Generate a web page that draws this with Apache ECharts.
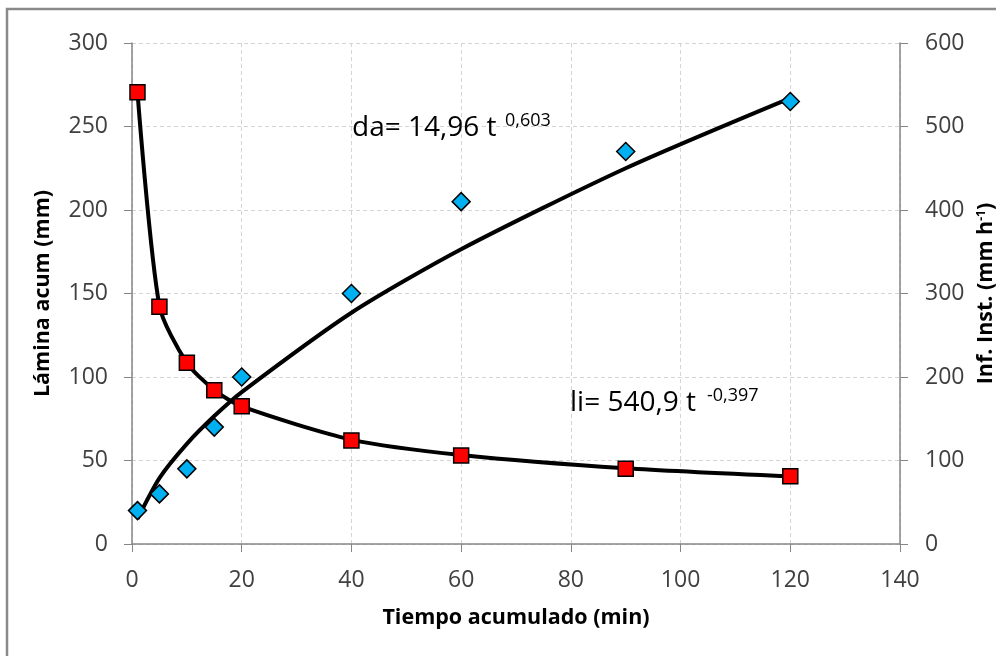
<!DOCTYPE html>
<html>
<head>
<meta charset="utf-8">
<script src="https://cdn.jsdelivr.net/npm/echarts@6/dist/echarts.min.js"></script>
<style>
  html, body { margin: 0; padding: 0; background: #fff; }
  #chart { width: 996px; height: 656px; }
</style>
</head>
<body>
<div id="chart"></div>
<script>
// Elapsed time (min)
const tiempo = [1, 5, 10, 15, 20, 40, 60, 90, 120];
// Measured cumulative depth (mm), left axis
const laminaObs = [20, 30, 45, 70, 100, 150, 205, 235, 265];
// Fitted cumulative depth da = 14,96 t^0,603 (mm), left axis
const laminaAjuste = [15.0, 39.5, 60.0, 76.6, 91.0, 138.5, 176.5, 225.0, 267.0];
// Instantaneous infiltration (mm/h), right axis: measured points and fitted curve
const infObs = [541, 284, 217, 184, 165, 124, 106, 90, 81];
const infAjuste = [541, 285, 217, 184.5, 164.7, 125, 106.5, 90.6, 80.9];

const xTicks = { min: 0, max: 140, interval: 20 };
const yLeftTicks = { min: 0, max: 300, interval: 50 };
const yRightTicks = { min: 0, max: 600, interval: 100 };

const pairs = (xs, ys) => xs.map((x, i) => [x, ys[i]]);

const FONT = '"Open Sans", "Liberation Sans", sans-serif';
const axisGray = '#868686';

const chart = echarts.init(document.getElementById('chart'), null, { renderer: 'canvas' });

const tickLabel = { color: '#404040', fontSize: 23, fontFamily: FONT };
const titleStyle = { color: '#000', fontSize: 21.5, fontWeight: 'bold', fontFamily: FONT };
const gridLine = { show: true, lineStyle: { color: '#d4d4d4', type: [4, 3], width: 1 } };
const eqMain = { fontSize: 28, fontFamily: FONT, fill: '#000' };
const eqSup = { fontSize: 18, fontFamily: FONT, fill: '#000' };

chart.setOption({
  backgroundColor: '#fff',
  animation: false,
  grid: { left: 132, right: 96, top: 43, bottom: 112, outerBoundsMode: 'none', containLabel: false },
  xAxis: {
    type: 'value',
    min: xTicks.min, max: xTicks.max, interval: xTicks.interval,
    name: 'Tiempo acumulado (min)',
    nameLocation: 'middle',
    nameGap: 63,
    nameTextStyle: titleStyle,
    axisLine: { show: true, onZero: false, lineStyle: { color: axisGray, width: 1.5 } },
    axisTick: { show: true, inside: false, length: 8, lineStyle: { color: axisGray } },
    axisLabel: Object.assign({ margin: 25 }, tickLabel),
    splitLine: gridLine
  },
  yAxis: [
    {
      type: 'value',
      position: 'left',
      min: yLeftTicks.min, max: yLeftTicks.max, interval: yLeftTicks.interval,
      name: 'Lámina acum (mm)',
      nameLocation: 'middle',
      nameGap: 78,
      nameRotate: 90,
      nameTextStyle: titleStyle,
      axisLine: { show: true, lineStyle: { color: axisGray, width: 1.5 } },
      axisTick: { show: true, length: 8, lineStyle: { color: axisGray } },
      axisLabel: Object.assign({ margin: 24 }, tickLabel),
      splitLine: gridLine
    },
    {
      type: 'value',
      position: 'right',
      min: yRightTicks.min, max: yRightTicks.max, interval: yRightTicks.interval,
      name: '{b|Inf. Inst. (mm h}{s|-1}{b|)}',
      nameLocation: 'middle',
      nameGap: 73,
      nameRotate: 90,
      nameTextStyle: {
        rich: {
          b: titleStyle,
          s: { color: '#000', fontSize: 12, fontWeight: 'bold', fontFamily: FONT, verticalAlign: 'top', padding: [0, 0, 10, 0] }
        }
      },
      axisLine: { show: true, lineStyle: { color: axisGray, width: 1.5 } },
      axisTick: { show: true, length: 8, lineStyle: { color: axisGray } },
      axisLabel: Object.assign({ margin: 25 }, tickLabel),
      splitLine: { show: false }
    }
  ],
  series: [
    {
      name: 'da ajuste',
      type: 'line',
      yAxisIndex: 0,
      data: pairs(tiempo, laminaAjuste),
      smooth: 0.25,
      showSymbol: false,
      symbol: 'none',
      lineStyle: { color: '#000', width: 4 },
      z: 2
    },
    {
      name: 'li ajuste',
      type: 'line',
      yAxisIndex: 1,
      data: pairs(tiempo, infAjuste),
      smooth: 0.25,
      showSymbol: false,
      symbol: 'none',
      lineStyle: { color: '#000', width: 4 },
      z: 2
    },
    {
      name: 'Lámina acumulada',
      type: 'scatter',
      yAxisIndex: 0,
      data: pairs(tiempo, laminaObs),
      symbol: 'diamond',
      symbolSize: [18, 18],
      itemStyle: { color: '#00b0f0', borderColor: '#000', borderWidth: 1.5, opacity: 1 },
      z: 3
    },
    {
      name: 'Infiltración instantánea',
      type: 'scatter',
      yAxisIndex: 1,
      data: pairs(tiempo, infObs),
      symbol: 'rect',
      symbolSize: 15,
      itemStyle: { color: '#ff0000', borderColor: '#000', borderWidth: 1.5, opacity: 1 },
      z: 4
    }
  ],
  graphic: [
    {
      type: 'rect',
      shape: { x: 7, y: 9, width: 1000, height: 700 },
      style: { fill: 'none', stroke: '#8a8a8a', lineWidth: 2.5 },
      silent: true, z: 0
    },
    // cumulative-depth equation
    { type: 'text', x: 352, y: 128, z: 10,
      style: Object.assign({ text: 'da= 14,96 t', verticalAlign: 'middle' }, eqMain) },
    { type: 'text', x: 505, y: 121, z: 10,
      style: Object.assign({ text: '0,603', verticalAlign: 'middle' }, eqSup) },
    // infiltration-rate equation
    { type: 'text', x: 570, y: 403, z: 10,
      style: Object.assign({ text: 'li= 540,9 t', verticalAlign: 'middle' }, eqMain) },
    { type: 'text', x: 707, y: 396, z: 10,
      style: Object.assign({ text: '-0,397', verticalAlign: 'middle' }, eqSup) }
  ]
});
</script>
</body>
</html>
